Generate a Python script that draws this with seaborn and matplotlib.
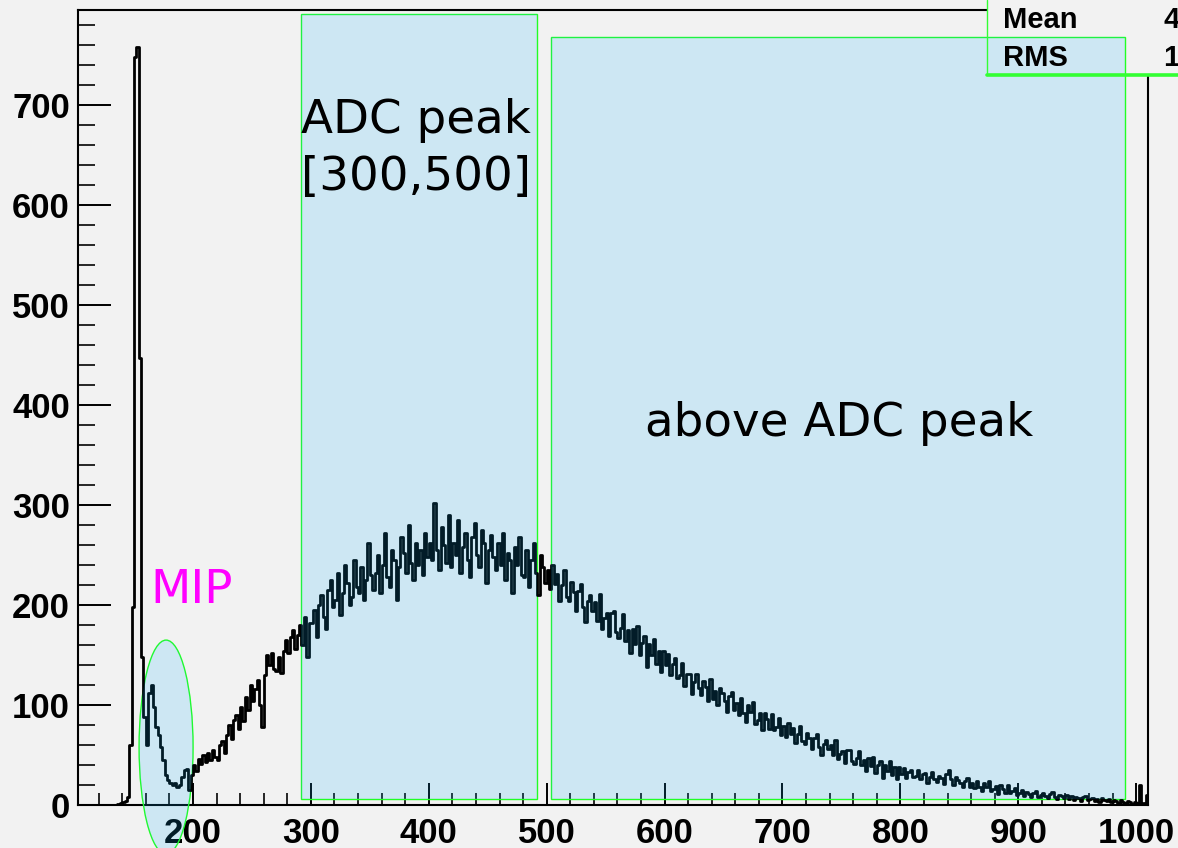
import numpy as np
import pandas as pd
import matplotlib
matplotlib.use("Agg")
import matplotlib.pyplot as plt
from matplotlib.patches import Rectangle, Ellipse
import seaborn as sns

# ---------------- data (counts per 2-ADC bin, starting at 120) ----------------
bin_start = 120
bin_width = 2
counts_120_200 = [0, 0, 0, 0, 0, 0, 0, 0, 1, 2,
                  3, 4, 8, 60, 198, 748, 758, 447, 148, 88,
                  60, 112, 120, 98, 78, 70, 58, 45, 30, 25,
                  22, 20, 22, 18, 20, 28, 35, 36, 15, 30]
counts_200_300 = [40, 34, 46, 41, 50, 43, 52, 45, 55, 48,
                  45, 60, 64, 52, 70, 80, 66, 85, 90, 76,
                  98, 84, 108, 95, 120, 104, 116, 125, 100, 78,
                  130, 150, 140, 152, 136, 134, 148, 132, 154, 165,
                  152, 168, 175, 156, 170, 180, 160, 188, 148, 182]
counts_300_400 = [182, 195, 168, 200, 210, 188, 176, 215, 225, 198,
                  205, 232, 190, 212, 240, 222, 200, 208, 245, 218,
                  212, 238, 205, 225, 262, 230, 215, 232, 250, 212,
                  240, 272, 228, 218, 255, 245, 205, 238, 268, 252,
                  232, 280, 242, 225, 262, 240, 255, 230, 272, 248]
counts_400_500 = [262, 245, 302, 255, 235, 278, 260, 242, 290, 238,
                  262, 250, 285, 232, 258, 272, 245, 228, 268, 282,
                  250, 238, 275, 262, 222, 255, 270, 248, 235, 262,
                  240, 272, 225, 252, 245, 212, 258, 240, 268, 230,
                  228, 255, 218, 245, 262, 232, 210, 250, 238, 222]
counts_500_600 = [235, 216, 240, 221, 231, 204, 220, 235, 208, 204,
                  223, 213, 194, 214, 221, 198, 183, 204, 210, 194,
                  203, 184, 211, 176, 187, 192, 169, 192, 194, 173,
                  167, 177, 191, 164, 175, 152, 176, 161, 179, 150,
                  162, 169, 138, 161, 150, 166, 141, 154, 133, 154]
counts_600_700 = [140, 151, 130, 141, 147, 127, 130, 142, 119, 131,
                  131, 111, 123, 131, 117, 110, 124, 118, 104, 126,
                  106, 114, 100, 117, 112, 104, 93, 109, 113, 95,
                  102, 90, 107, 92, 83, 100, 93, 103, 81, 85,
                  92, 75, 92, 86, 76, 91, 75, 78, 87, 70]
counts_700_800 = [79, 68, 82, 71, 77, 62, 71, 79, 64, 61,
                  72, 67, 56, 67, 71, 58, 50, 61, 65, 56,
                  60, 50, 65, 46, 51, 54, 42, 55, 55, 44,
                  41, 47, 54, 40, 45, 34, 47, 39, 48, 32,
                  40, 44, 27, 40, 34, 44, 30, 38, 26, 38]
counts_800_900 = [31, 37, 27, 33, 35, 28, 29, 35, 26, 31,
                  32, 22, 28, 33, 26, 23, 29, 27, 21, 31,
                  35, 26, 20, 28, 25, 22, 18, 24, 27, 18,
                  22, 17, 24, 18, 14, 22, 18, 24, 14, 16,
                  19, 11, 20, 16, 12, 20, 12, 14, 17, 10]
counts_900_1010 = [12, 15, 9, 13, 11, 8, 12, 14, 8, 10,
                   12, 9, 7, 11, 13, 8, 6, 10, 9, 7,
                   10, 6, 9, 5, 8, 7, 4, 8, 9, 5,
                   6, 7, 4, 6, 3, 7, 5, 4, 6, 3,
                   5, 4, 2, 5, 3, 2, 4, 3, 1, 3,
                   2, 20, 1, 2, 10]

counts = np.array(counts_120_200 + counts_200_300 + counts_300_400 + counts_400_500
                  + counts_500_600 + counts_600_700 + counts_700_800 + counts_800_900
                  + counts_900_1010, dtype=float)
edges = (bin_start + bin_width * np.arange(len(counts) + 1)).tolist()
centers = np.array(edges[:-1]) + bin_width / 2
df = pd.DataFrame({"adc": centers, "count": counts})

x_ticks = [200, 300, 400, 500, 600, 700, 800, 900, 1000]
y_ticks = [0, 100, 200, 300, 400, 500, 600, 700]

stat_labels = ["Mean", "RMS"]
stat_values = ["4", "1"]

# ---------------- figure ----------------
W, H = 1178, 848
sns.set_style("ticks")
plt.rcParams["font.family"] = ["Liberation Sans", "DejaVu Sans"]
bg = "#f2f2f2"
fig = plt.figure(figsize=(W / 100, H / 100), dpi=100, facecolor=bg)


def fx(px):
    return px / W


def fy(py):
    return 1 - py / H


ax = fig.add_axes([fx(78), fy(805), fx(1148) - fx(78), fy(10) - fy(805)])
ax.set_facecolor(bg)

sns.histplot(data=df, x="adc", weights="count", bins=edges, element="step",
             fill=False, color="black", linewidth=2.0, ax=ax, zorder=2.8)

ax.set_xlim(102.5, 1010)
ax.set_ylim(0, 795.5)
ax.set_xlabel("")
ax.set_ylabel("")

ax.set_xticks(x_ticks)
ax.set_xticks(np.arange(120, 1010, 20), minor=True)
ax.set_yticks(y_ticks)
ax.set_yticks(np.arange(0, 795, 20), minor=True)
ax.set_xticklabels([str(v) for v in x_ticks])
ax.set_yticklabels([str(v) for v in y_ticks])
for lab in ax.get_xticklabels() + ax.get_yticklabels():
    lab.set_fontweight("bold")
    lab.set_fontsize(25)
ax.tick_params(axis="x", which="major", direction="in", length=15.8, width=1.4,
               pad=8.3, colors="black")
ax.tick_params(axis="x", which="minor", direction="in", length=8.6, width=1.4)
ax.tick_params(axis="y", which="major", direction="in", length=23.8, width=1.4,
               pad=5.8, colors="black")
ax.tick_params(axis="y", which="minor", direction="in", length=12.2, width=1.4)
for s in ax.spines.values():
    s.set_visible(True)
    s.set_color("black")
    s.set_linewidth(1.5)

# ---------------- stats box (partly outside the canvas) ----------------
ax.add_patch(Rectangle((fx(987), fy(75)), 0.5, 0.5, transform=fig.transFigure,
                       facecolor=bg, edgecolor="none", clip_on=False, zorder=2.6))

# ---------------- region boxes ----------------
fill_col = (0.05, 0.70, 0.98, 0.16)
green = "#22ff22"
regions = [(291.9, 6, 491.5 - 291.9, 791.7 - 6), (503.7, 6, 990.5 - 503.7, 768 - 6)]
for (x0, y0, w, h) in regions:
    ax.add_patch(Rectangle((x0, y0), w, h, facecolor="none", edgecolor=green,
                           linewidth=1.0, zorder=2.7))
    ax.add_patch(Rectangle((x0, y0), w, h, facecolor=fill_col, edgecolor="none",
                           zorder=3))
ax.add_patch(Ellipse((177.2, 58), 45.8, 214, facecolor="none", edgecolor=green,
                     linewidth=1.0, zorder=2.7, clip_on=False))
ax.add_patch(Ellipse((177.2, 58), 45.8, 214, facecolor=fill_col, edgecolor="none",
                     zorder=3, clip_on=False))

# stats box borders
ax.add_line(plt.Line2D([fx(987), fx(987)], [fy(75), 1.0], transform=fig.transFigure,
                       color="#33ff33", linewidth=1.0, clip_on=False, zorder=4))
ax.add_line(plt.Line2D([fx(987), 1.0], [fy(75), fy(75)], transform=fig.transFigure,
                       color="#33ff33", linewidth=2.6, clip_on=False, zorder=4))

for lab, val, base in zip(stat_labels, stat_values, [28, 66]):
    fig.text(fx(1003), fy(base), lab, fontsize=21, fontweight="bold",
             family="Liberation Sans", va="baseline", ha="left", color="black")
    fig.text(fx(1163), fy(base), val, fontsize=21, fontweight="bold",
             family="Liberation Sans", va="baseline", ha="left", color="black")

# ---------------- annotations ----------------
tfont = dict(fontsize=33.7, family="DejaVu Sans", va="baseline", ha="left")
fig.text(fx(301), fy(133), "ADC peak", color="black", **tfont)
fig.text(fx(301), fy(190), "[300,500]", color="black", **tfont)
fig.text(fx(645), fy(436), "above ADC peak", color="black", **tfont)
fig.text(fx(150), fy(603), "MIP", color="#ff00ff", **tfont)

fig.savefig("out.png", dpi=100, facecolor=bg)
